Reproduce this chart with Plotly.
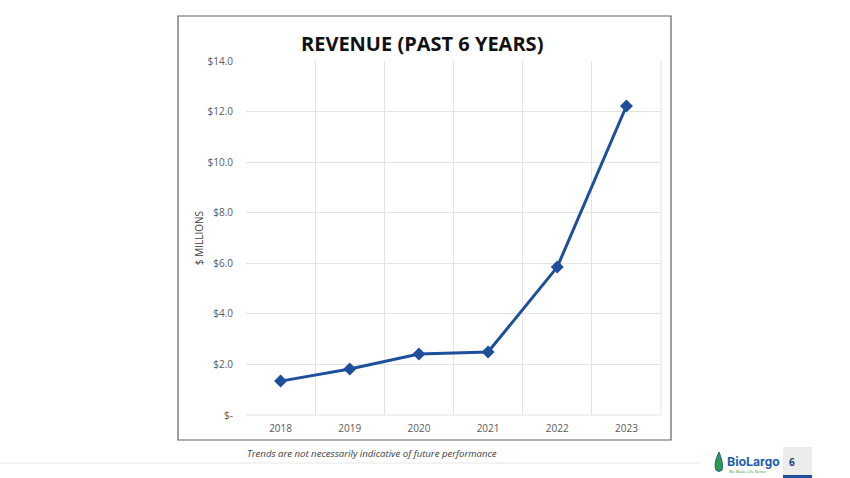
import plotly.graph_objects as go

# revenue in $ millions
years   = ['2018', '2019', '2020', '2021', '2022', '2023']
revenue = [1.34, 1.82, 2.41, 2.49, 5.85, 12.22]

y_ticks  = [0, 2, 4, 6, 8, 10, 12, 14]
y_labels = ['$-', '$2.0', '$4.0', '$6.0', '$8.0', '$10.0', '$12.0', '$14.0']

W, H = 850, 478
line_blue = '#1d4f9c'
grid = '#e3e3e3'


def px(x):
    return x / W


def py(y):
    return 1 - y / H


fig = go.Figure()
fig.add_scatter(x=years, y=revenue, mode='lines+markers',
                line=dict(color=line_blue, width=3),
                marker=dict(symbol='diamond', size=10, color=line_blue),
                showlegend=False, hoverinfo='x+y')

fig.update_layout(
    width=W, height=H, autosize=False,
    margin=dict(l=0, r=0, t=0, b=0, pad=0, autoexpand=False),
    paper_bgcolor='white', plot_bgcolor='white',
    font=dict(family='Open Sans, Noto Sans, sans-serif', color='#595959'),
    xaxis=dict(type='category', domain=[px(246), px(661)], automargin=False,
               range=[-0.5, len(years) - 0.5],
               tickson='boundaries', showgrid=True, gridcolor=grid, gridwidth=1,
               showline=False, zeroline=False, ticks='',
               tickfont=dict(size=10, color='#595959'), ticklabelstandoff=6),
    yaxis=dict(domain=[py(415), py(61)], range=[0, 14], automargin=False,
               tickvals=y_ticks, ticktext=y_labels,
               showgrid=True, gridcolor=grid, gridwidth=1,
               zeroline=False, showline=False, ticks='',
               tickfont=dict(size=10, color='#595959'), ticklabelstandoff=12,
               title=dict(text='$ MILLIONS', font=dict(size=10, color='#404040'),
                          standoff=2)),
)

# chart frame, right edge of plot and baseline
fig.add_shape(type='rect', xref='paper', yref='paper',
              x0=px(178), x1=px(671), y0=py(440), y1=py(16),
              line=dict(color='#606060', width=1.2), layer='below')
fig.add_shape(type='line', xref='paper', yref='paper',
              x0=px(246), x1=px(661), y0=py(415), y1=py(415),
              line=dict(color=grid, width=1))
fig.add_shape(type='line', xref='paper', yref='paper',
              x0=px(661), x1=px(661), y0=py(415), y1=py(61),
              line=dict(color=grid, width=1))

fig.add_annotation(text='<b>REVENUE (PAST 6 YEARS)</b>', xref='paper', yref='paper',
                   x=px(422), y=py(43), yanchor='middle', showarrow=False,
                   font=dict(size=20, color='#111111', family='Open Sans, sans-serif'))

# footer
fig.add_annotation(text='<i>Trends are not necessarily indicative of future performance</i>',
                   xref='paper', yref='paper', x=px(245), y=py(453),
                   xanchor='left', yanchor='middle',
                   showarrow=False, font=dict(size=9.6, color='#404040'))
fig.add_shape(type='line', xref='paper', yref='paper',
              x0=0, x1=px(700), y0=py(463), y1=py(463),
              line=dict(color='#e6e6e6', width=1))

# logo
fig.add_shape(type='path', xref='paper', yref='paper',
              path=f'M {px(719)},{py(452)} Q {px(713)},{py(464)} {px(716)},{py(470)} '
                   f'Q {px(719)},{py(473)} {px(722)},{py(470)} Q {px(724)},{py(464)} {px(719)},{py(452)} Z',
              fillcolor='#2e9a48', line=dict(color='#1d5fae', width=1))
fig.add_annotation(text='<b>BioLargo</b>', xref='paper', yref='paper',
                   x=px(725), y=py(461), xanchor='left', yanchor='middle', showarrow=False,
                   font=dict(size=13, color='#1d5fae', family='Roboto, sans-serif'))
fig.add_annotation(text='We Make Life Better', xref='paper', yref='paper',
                   x=px(727), y=py(471), xanchor='left', yanchor='middle', showarrow=False,
                   font=dict(size=4, color='#2e9a48'))

# page number box
fig.add_shape(type='rect', xref='paper', yref='paper',
              x0=px(783), x1=px(812), y0=py(475), y1=py(447),
              fillcolor='#ececec', line=dict(width=0))
fig.add_shape(type='rect', xref='paper', yref='paper',
              x0=px(783), x1=px(812), y0=py(478), y1=py(475),
              fillcolor='#1d4f9c', line=dict(width=0))
fig.add_annotation(text='<b>6</b>', xref='paper', yref='paper',
                   x=px(797), y=py(462), yanchor='middle', showarrow=False,
                   font=dict(size=10, color='#1d3f7a'))

fig.write_html('out.html', config={'displayModeBar': False},
               post_script="document.body.style.margin='0';document.body.style.overflow='hidden';")
